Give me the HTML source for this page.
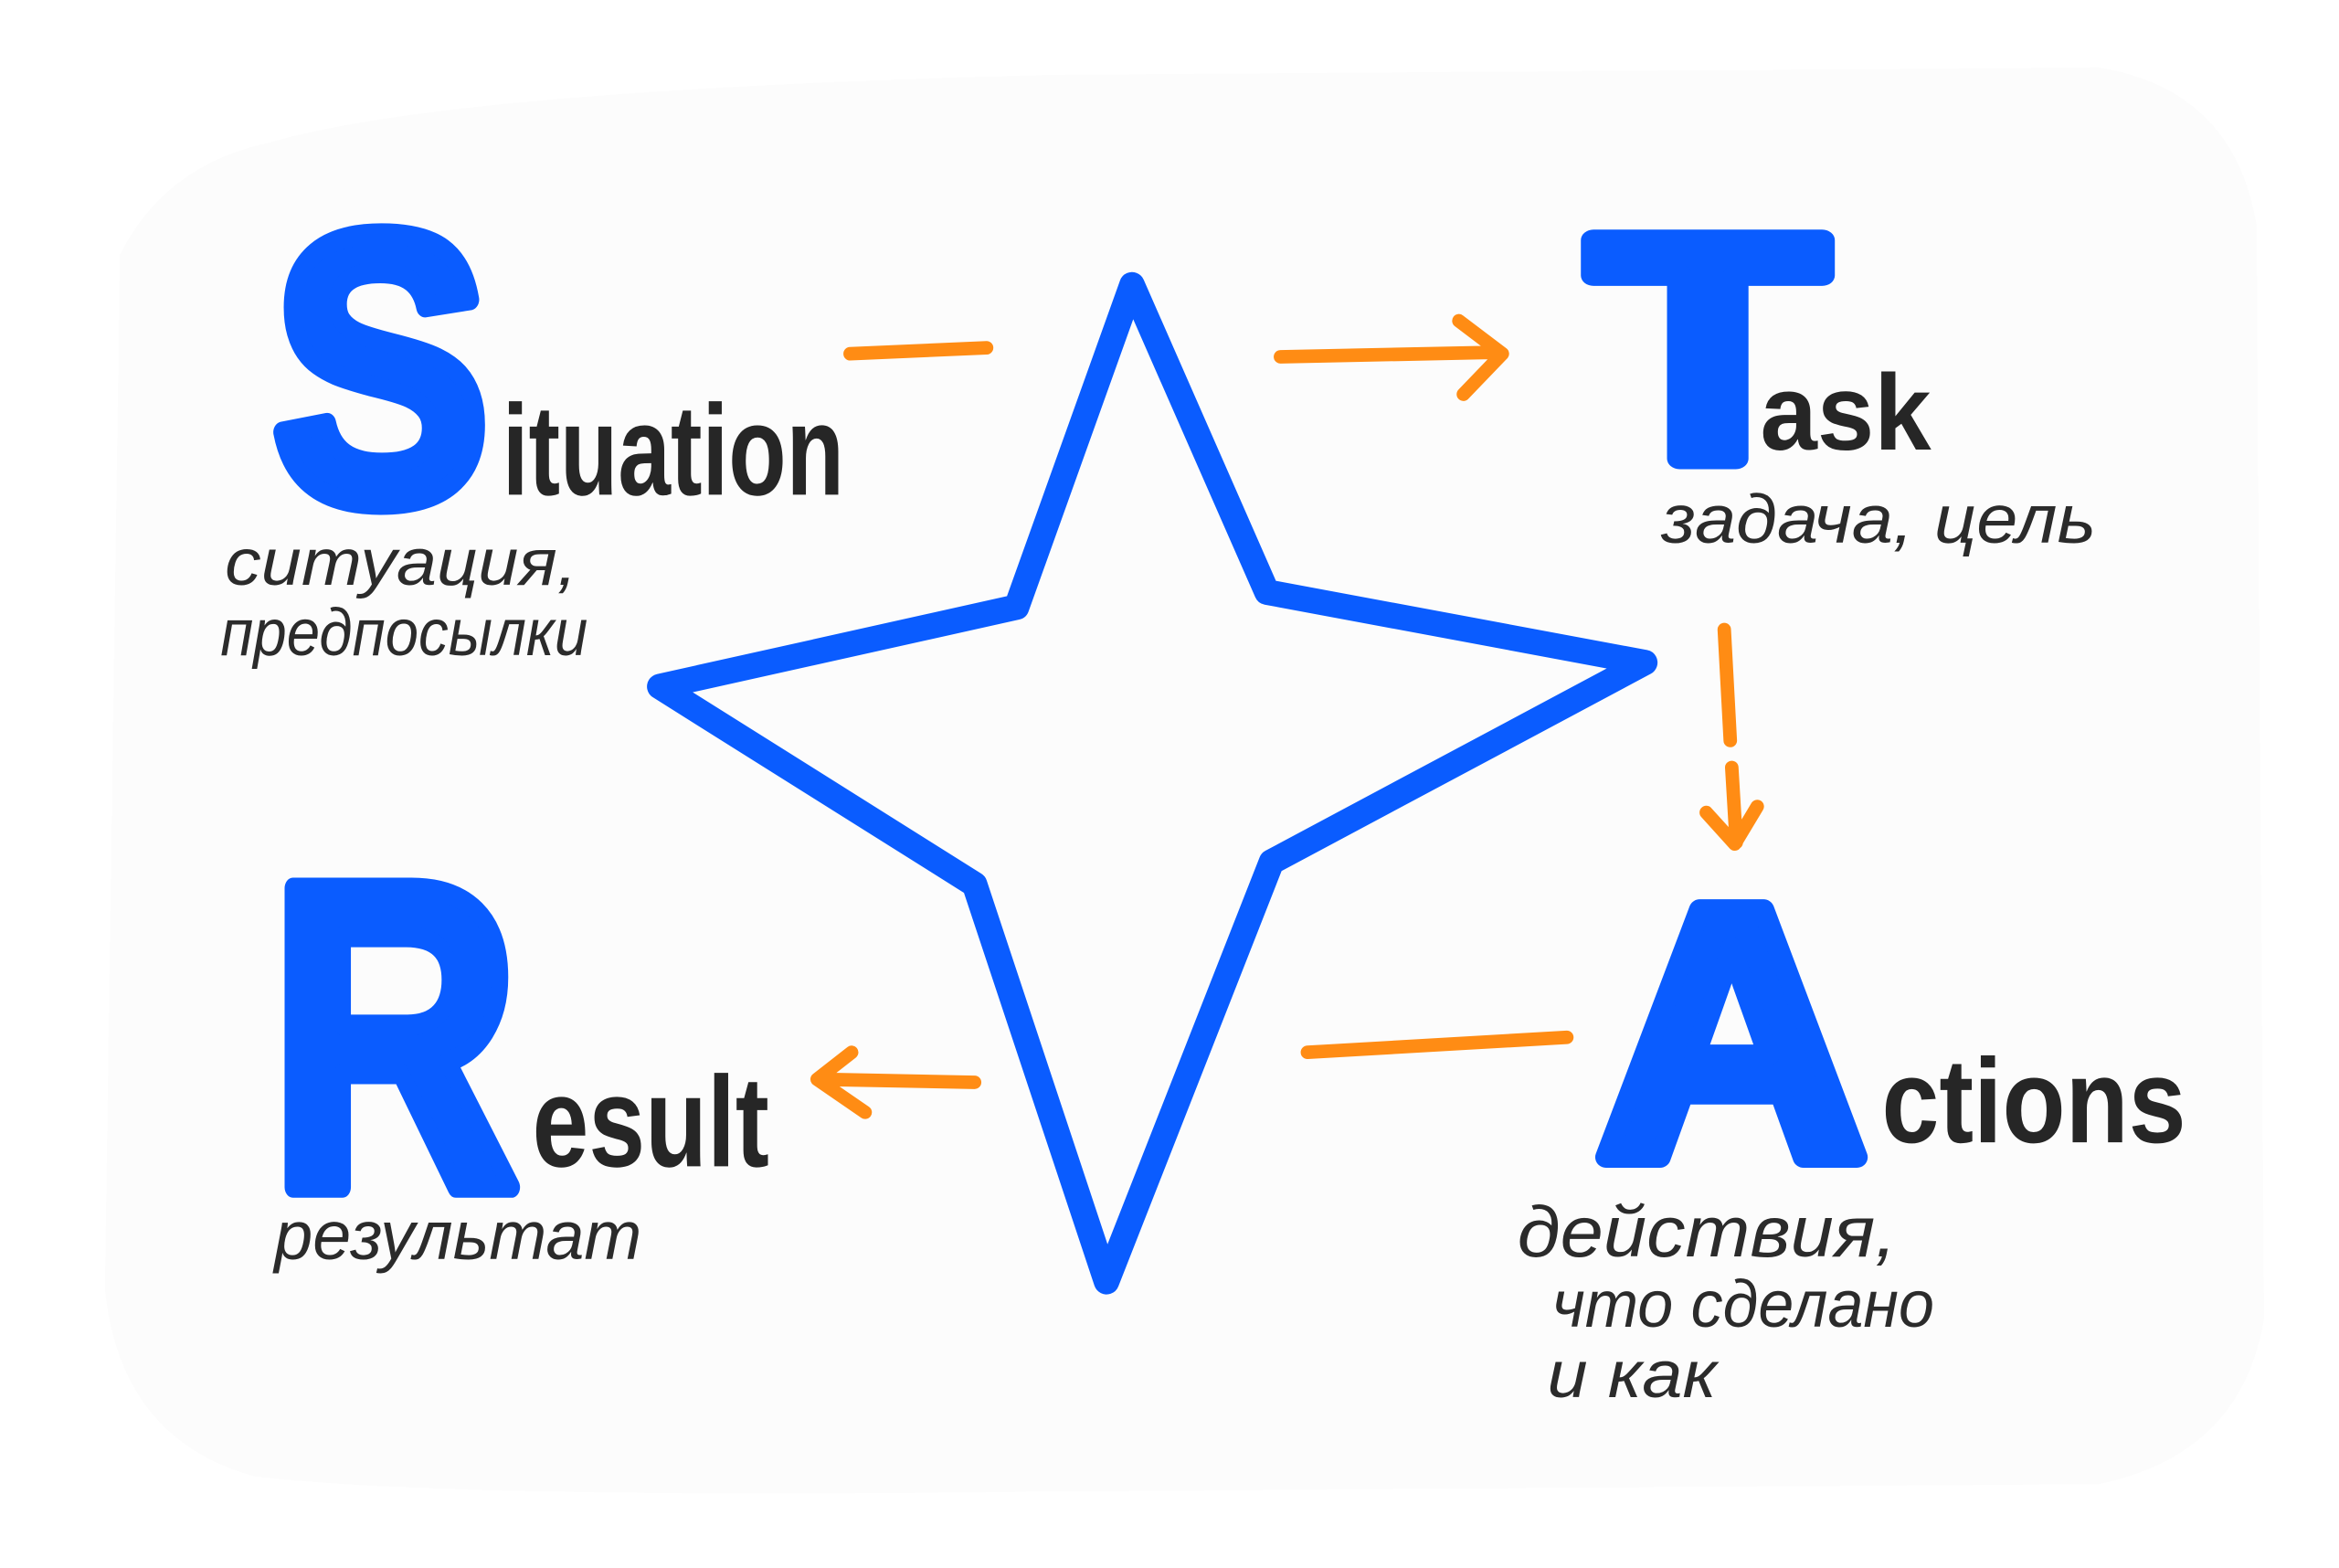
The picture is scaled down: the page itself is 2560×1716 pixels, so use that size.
<!DOCTYPE html>
<html><head><meta charset="utf-8"><style>
html,body{margin:0;padding:0;background:#fff;width:2560px;height:1716px;overflow:hidden}
svg{display:block}
.big{font-family:"Liberation Sans",sans-serif;font-weight:bold;fill:#0a5cff;stroke:#0a5cff;stroke-width:14;stroke-linejoin:round}
.sm{font-family:"Liberation Sans",sans-serif;font-weight:bold;fill:#262626}
.hw{font-family:"Liberation Sans","Noto Sans CJK SC",sans-serif;font-style:italic;fill:#2b2b2b}
</style></head><body>
<svg width="2560" height="1716" viewBox="0 0 1560 1046" preserveAspectRatio="none">
<path d="M180 95 Q110 110 80 170 L70 860 Q80 960 170 985 Q300 1000 700 995 L1400 990 Q1495 970 1510 880 L1505 150 Q1490 60 1400 45 L700 50 Q300 60 180 95 Z" fill="#fcfcfc"/>
<!-- star -->
<path d="M755 190 L678 405 L440 458 L650 590 L738 855 L848 575 L1097 442 L845 395 Z" fill="none" stroke="#0a5cff" stroke-width="17" stroke-linejoin="round"/>
<!-- big letters -->
<text class="big" x="182" y="334" font-size="255" textLength="144" lengthAdjust="spacingAndGlyphs">S</text>
<text class="big" x="1060" y="306" font-size="212" textLength="158" lengthAdjust="spacingAndGlyphs">T</text>
<text class="big" x="180" y="792" font-size="290" textLength="166" lengthAdjust="spacingAndGlyphs">R</text>
<text class="big" x="1065" y="772" font-size="240" textLength="180" lengthAdjust="spacingAndGlyphs">A</text>
<!-- small words -->
<text class="sm" x="335" y="330" font-size="86" textLength="228" lengthAdjust="spacingAndGlyphs">ituation</text>
<text class="sm" x="1174" y="300" font-size="72" textLength="114" lengthAdjust="spacingAndGlyphs">ask</text>
<text class="sm" x="355" y="778" font-size="86" textLength="158" lengthAdjust="spacingAndGlyphs">esult</text>
<text class="sm" x="1255" y="762" font-size="80" textLength="203" lengthAdjust="spacingAndGlyphs">ctions</text>
<!-- handwriting -->
<text class="hw" x="150" y="390" font-size="44" textLength="235" lengthAdjust="spacingAndGlyphs">ситуация,</text>
<text class="hw" x="147" y="437" font-size="44" textLength="245" lengthAdjust="spacingAndGlyphs">предпосылки</text>
<text class="hw" x="1108" y="362" font-size="46" textLength="290" lengthAdjust="spacingAndGlyphs">задача, цель</text>
<text class="hw" x="183" y="840" font-size="46" textLength="245" lengthAdjust="spacingAndGlyphs">результат</text>
<text class="hw" x="1012" y="838" font-size="48" textLength="253" lengthAdjust="spacingAndGlyphs">действия,</text>
<text class="hw" x="1035" y="885" font-size="44" textLength="255" lengthAdjust="spacingAndGlyphs">что сделано</text>
<text class="hw" x="1032" y="932" font-size="44" textLength="113" lengthAdjust="spacingAndGlyphs">и как</text>
<!-- orange arrows -->
<g fill="none" stroke="#ff8c14" stroke-width="9" stroke-linecap="round" stroke-linejoin="round">
<path d="M567 236 L658 232"/>
<path d="M854 238 L1000 235 M973 214 L1002 236 L976 263"/>
<path d="M1150 420 L1154 494 M1155 512 L1158 562 M1138 542 L1157 563 L1172 538"/>
<path d="M872 702 L1045 692"/>
<path d="M650 722 L547 720 M568 702 L545 720 L577 742"/>
</g>
</svg>
</body></html>
